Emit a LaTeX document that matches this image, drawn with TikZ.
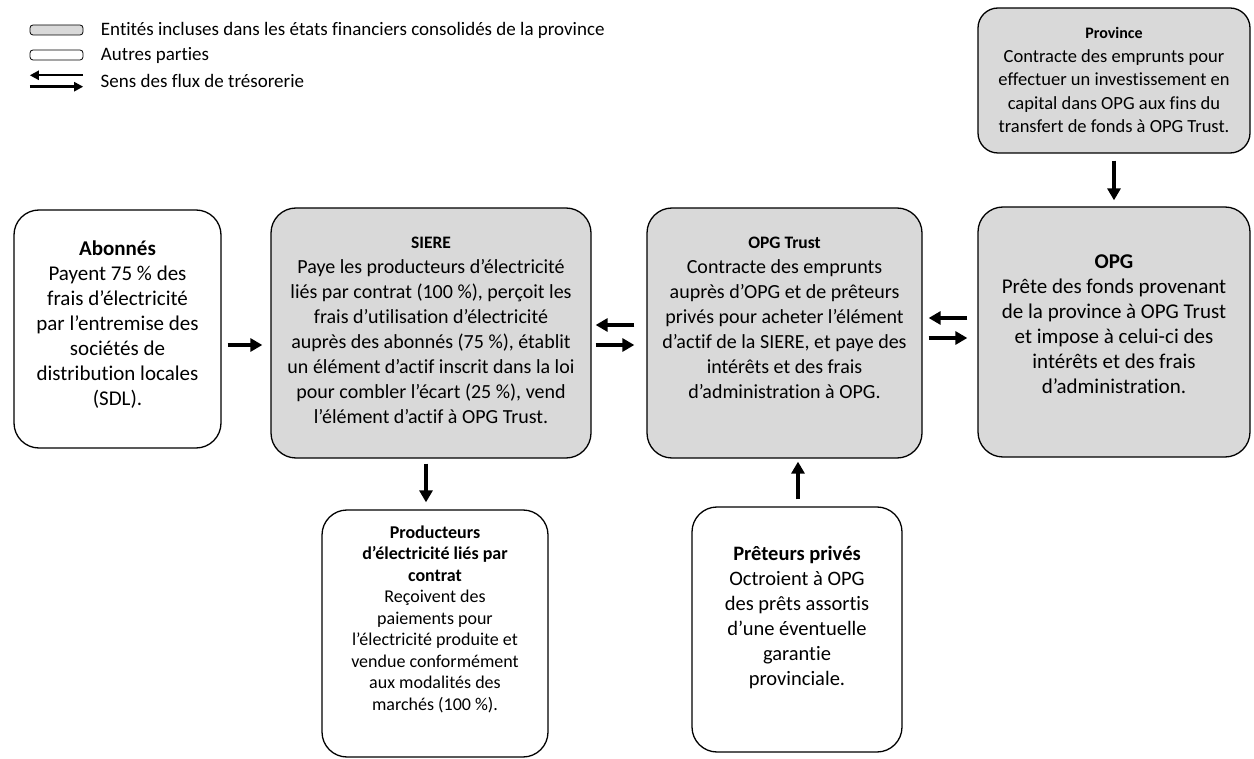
\documentclass[tikz,border=0pt]{standalone}
\usepackage{fontspec}
\setmainfont{Carlito}[Ligatures=NoCommon]
\usetikzlibrary{positioning,arrows.meta}
\definecolor{gris}{RGB}{217,217,217}
\newcommand{\taille}[2]{\fontsize{#1}{#2}\selectfont}

\begin{document}
\begin{tikzpicture}[>={Triangle[length=12pt,width=13pt]},x=1pt,y=-1pt,
  boite/.style={draw,line width=1.3pt,rounded corners=25pt,inner sep=0pt},
  grise/.style={boite,fill=gris},
  blanche/.style={boite,fill=white},
  texte/.style={align=center,inner sep=0pt},
  flux/.style={->,line width=3.3pt}]
\useasboundingbox (0,0) rectangle (1254,759);
%Légende
\node[grise,rounded corners=3pt,line width=0.8pt,minimum width=53pt,minimum height=10pt] (lg1) at (56.5,30) {};
\node[blanche,rounded corners=3pt,line width=0.8pt,minimum width=53pt,minimum height=10pt] (lg2) at (56.5,55) {};
\node[minimum width=53pt,minimum height=11pt,inner sep=0pt] (lg3) at (56.5,81) {};
\draw[->,line width=2.4pt,>={Triangle[length=9pt,width=9pt]}] (lg3.north east) -- (lg3.north west);
\draw[->,line width=2.4pt,>={Triangle[length=9pt,width=9pt]}] (lg3.south west) -- (lg3.south east);
\node[right=14pt of lg1,font=\taille{19}{22}] (lg1-t) {Entités incluses dans les états financiers consolidés de la province};
\node[right=14pt of lg2,font=\taille{19}{22}] (lg2-t) {Autres parties};
\node[right=14pt of lg3,font=\taille{19}{22}] (lg3-t) {Sens des flux de trésorerie};
%Boîtes
\node[blanche,minimum width=207pt,minimum height=238pt] (abon) at (117.5,329) {};
\node[grise,minimum width=320pt,minimum height=250pt] (siere) at (431,333) {};
\node[grise,minimum width=275pt,minimum height=250pt] (trust) at (784.5,333) {};
\node[grise,minimum width=272pt,minimum height=250pt] (opg) at (1114,332) {};
\node[grise,minimum width=272pt,minimum height=145pt,rounded corners=20pt] (prov) at (1114,80.5) {};
\node[blanche,minimum width=226pt,minimum height=247pt] (prod) at (435,633.5) {};
\node[blanche,minimum width=210pt,minimum height=245pt] (pret) at (797,629.5) {};
%Textes
\node[texte,below=31pt of abon.north,font=\taille{21}{25}] (abon-t) {\textbf{Abonnés}\\Payent 75 \% des\\frais d’électricité\\par l’entremise des\\sociétés de\\distribution locales\\(SDL).};
\node[texte,below=29pt of siere.north,font=\taille{20}{25}] (siere-t) {\textbf{\taille{17.5}{25}SIERE}\\Paye les producteurs d’électricité\\liés par contrat (100 \%), perçoit les\\frais d’utilisation d’électricité\\auprès des abonnés (75 \%), établit\\un élément d’actif inscrit dans la loi\\pour combler l’écart (25 \%), vend\\l’élément d’actif à OPG Trust.};
\node[texte,below=29pt of trust.north,font=\taille{20}{25}] (trust-t) {\textbf{\taille{17.5}{25}OPG Trust}\\Contracte des emprunts\\auprès d’OPG et de prêteurs\\privés pour acheter l’élément\\d’actif de la SIERE, et paye des\\intérêts et des frais\\d’administration à OPG.};
\node[texte,below=48pt of opg.north,font=\taille{21}{25}] (opg-t) {\textbf{OPG}\\Prête des fonds provenant\\de la province à OPG Trust\\et impose à celui-ci des\\intérêts et des frais\\d’administration.};
\node[texte,below=20pt of prov.north,font=\taille{18.5}{23.5}] (prov-t) {\textbf{\taille{16}{23.5}Province}\\Contracte des emprunts pour\\effectuer un investissement en\\capital dans OPG aux fins du\\transfert de fonds à OPG Trust.};
\node[texte,below=16pt of prod.north,font=\taille{18}{21.5}] (prod-t) {\textbf{Producteurs}\\\textbf{d’électricité liés par}\\\textbf{contrat}\\Reçoivent des\\paiements pour\\l’électricité produite et\\vendue conformément\\aux modalités des\\marchés (100 \%).};
\node[texte,below=40pt of pret.north,font=\taille{20.5}{25}] (pret-t) {\textbf{Prêteurs privés}\\Octroient à OPG\\des prêts assortis\\d’une éventuelle\\garantie\\provinciale.};
%Flux de trésorerie
\draw[flux,shorten <=6pt,shorten >=8pt] ([yshift=-16pt]abon.east) -- ([yshift=-12pt]siere.west);
\draw[flux,shorten <=12pt,shorten >=4pt] ([yshift=8pt]trust.west) -- ([yshift=8pt]siere.east);
\draw[flux,shorten <=4pt,shorten >=12pt] ([yshift=-12pt]siere.east) -- ([yshift=-12pt]trust.west);
\draw[flux,shorten <=10pt,shorten >=6pt] ([yshift=14pt]opg.west) -- ([yshift=15pt]trust.east);
\draw[flux,shorten <=6pt,shorten >=10pt] ([yshift=-5pt]trust.east) -- ([yshift=-6pt]opg.west);
\draw[flux,shorten <=7pt,shorten >=6pt] (prov.south) -- (opg.north);
\draw[flux,shorten <=5pt,shorten >=7pt] ([xshift=-5pt]siere.south) -- ([xshift=-9pt]prod.north);
\draw[flux,shorten <=7pt,shorten >=3pt] ([xshift=1pt]pret.north) -- ([xshift=13.5pt]trust.south);
\end{tikzpicture}
\end{document}
